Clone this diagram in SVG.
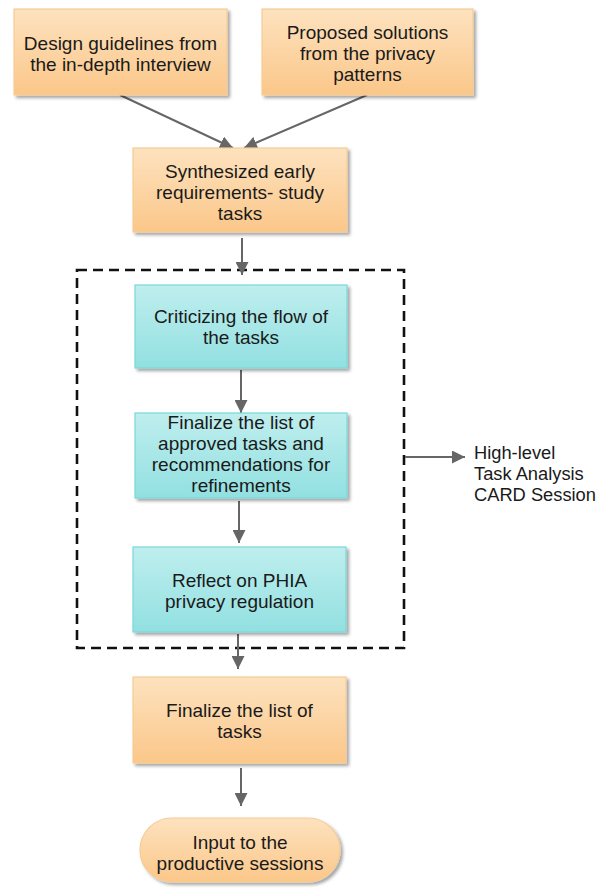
<svg xmlns="http://www.w3.org/2000/svg" width="599" height="890" viewBox="0 0 599 890">
  <style>
    .lbl { font-family: "Liberation Sans", Arial, sans-serif; font-size: 19px; fill: #1a1a1a; text-anchor: middle; }
    .side { font-family: "Liberation Sans", Arial, sans-serif; font-size: 18.3px; fill: #1a1a1a; }
    .orange { fill: url(#gOrange); stroke: #f5cc95; stroke-width: 1.2; filter: url(#shadow); }
    .teal { fill: url(#gTeal); stroke: #7ad8d8; stroke-width: 1.2; filter: url(#shadow); }
    .conn { stroke: #666; stroke-width: 2; fill: none; }
  </style>
  <defs>
    <linearGradient id="gOrange" x1="0" y1="0" x2="0" y2="1">
      <stop offset="0" stop-color="#fde2bf"/>
      <stop offset="1" stop-color="#fbc789"/>
    </linearGradient>
    <linearGradient id="gTeal" x1="0" y1="0" x2="0" y2="1">
      <stop offset="0" stop-color="#bfeeee"/>
      <stop offset="1" stop-color="#92e0e1"/>
    </linearGradient>
    <filter id="shadow" x="-10%" y="-10%" width="125%" height="130%">
      <feDropShadow dx="2.5" dy="2.5" stdDeviation="1.5" flood-color="#000" flood-opacity="0.35"/>
    </filter>
    <marker id="arr" viewBox="0 0 10 10" refX="10" refY="5" markerWidth="6.5" markerHeight="6.5" orient="auto" markerUnits="strokeWidth">
      <path d="M0,0 L10,5 L0,10 Z" fill="#666"/>
    </marker>
  </defs>

  <!-- dashed session boundary -->
  <rect id="session" x="77" y="270" width="327" height="378" fill="none" stroke="#111" stroke-width="2.6" stroke-dasharray="10,6"/>

  <g id="connectors">
    <line class="conn" x1="120" y1="95" x2="233" y2="148" marker-end="url(#arr)"/>
    <line class="conn" x1="367" y1="95" x2="244" y2="148" marker-end="url(#arr)"/>
    <line class="conn" x1="242" y1="238" x2="242" y2="275" marker-end="url(#arr)"/>
    <line class="conn" x1="241" y1="370" x2="241" y2="413" marker-end="url(#arr)"/>
    <line class="conn" x1="239" y1="501" x2="239" y2="543" marker-end="url(#arr)"/>
    <line class="conn" x1="238" y1="634" x2="238" y2="669" marker-end="url(#arr)"/>
    <line class="conn" x1="241" y1="768" x2="241" y2="806" marker-end="url(#arr)"/>
    <line class="conn" x1="405" y1="457" x2="465" y2="457" marker-end="url(#arr)"/>
  </g>

  <g id="n1">
    <rect class="orange" x="14" y="9" width="213" height="86"/>
    <text class="lbl" x="120.5" y="50">Design guidelines from</text>
    <text class="lbl" x="120.5" y="71">the in-depth interview</text>
  </g>

  <g id="n2">
    <rect class="orange" x="262" y="9" width="211" height="86"/>
    <text class="lbl" x="367.5" y="39">Proposed solutions</text>
    <text class="lbl" x="367.5" y="60">from the privacy</text>
    <text class="lbl" x="367.5" y="81">patterns</text>
  </g>

  <g id="n3">
    <rect class="orange" x="133" y="148" width="214" height="84"/>
    <text class="lbl" x="240" y="178">Synthesized early</text>
    <text class="lbl" x="240" y="199">requirements- study</text>
    <text class="lbl" x="240" y="220">tasks</text>
  </g>

  <g id="n4">
    <rect class="teal" x="135" y="285" width="212" height="83"/>
    <text class="lbl" x="241" y="323">Criticizing the flow of</text>
    <text class="lbl" x="241" y="344">the tasks</text>
  </g>

  <g id="n5">
    <rect class="teal" x="135" y="413" width="212" height="85"/>
    <text class="lbl" x="241" y="429">Finalize the list of</text>
    <text class="lbl" x="241" y="450">approved tasks and</text>
    <text class="lbl" x="241" y="471">recommendations for</text>
    <text class="lbl" x="241" y="492">refinements</text>
  </g>

  <g id="n6">
    <rect class="teal" x="133" y="547" width="213" height="85"/>
    <text class="lbl" x="239.5" y="587">Reflect on PHIA</text>
    <text class="lbl" x="239.5" y="608">privacy regulation</text>
  </g>

  <g id="n7">
    <rect class="orange" x="133" y="677" width="213" height="86"/>
    <text class="lbl" x="239.5" y="717">Finalize the list of</text>
    <text class="lbl" x="239.5" y="738">tasks</text>
  </g>

  <g id="n8">
    <rect class="orange" x="140" y="818" width="200" height="64" rx="32" ry="32"/>
    <text class="lbl" x="240" y="849">Input to the</text>
    <text class="lbl" x="240" y="870">productive sessions</text>
  </g>

  <g id="n9">
    <text class="side" x="474" y="459">High-level</text>
    <text class="side" x="474" y="480">Task Analysis</text>
    <text class="side" x="474" y="501">CARD Session</text>
  </g>
</svg>
